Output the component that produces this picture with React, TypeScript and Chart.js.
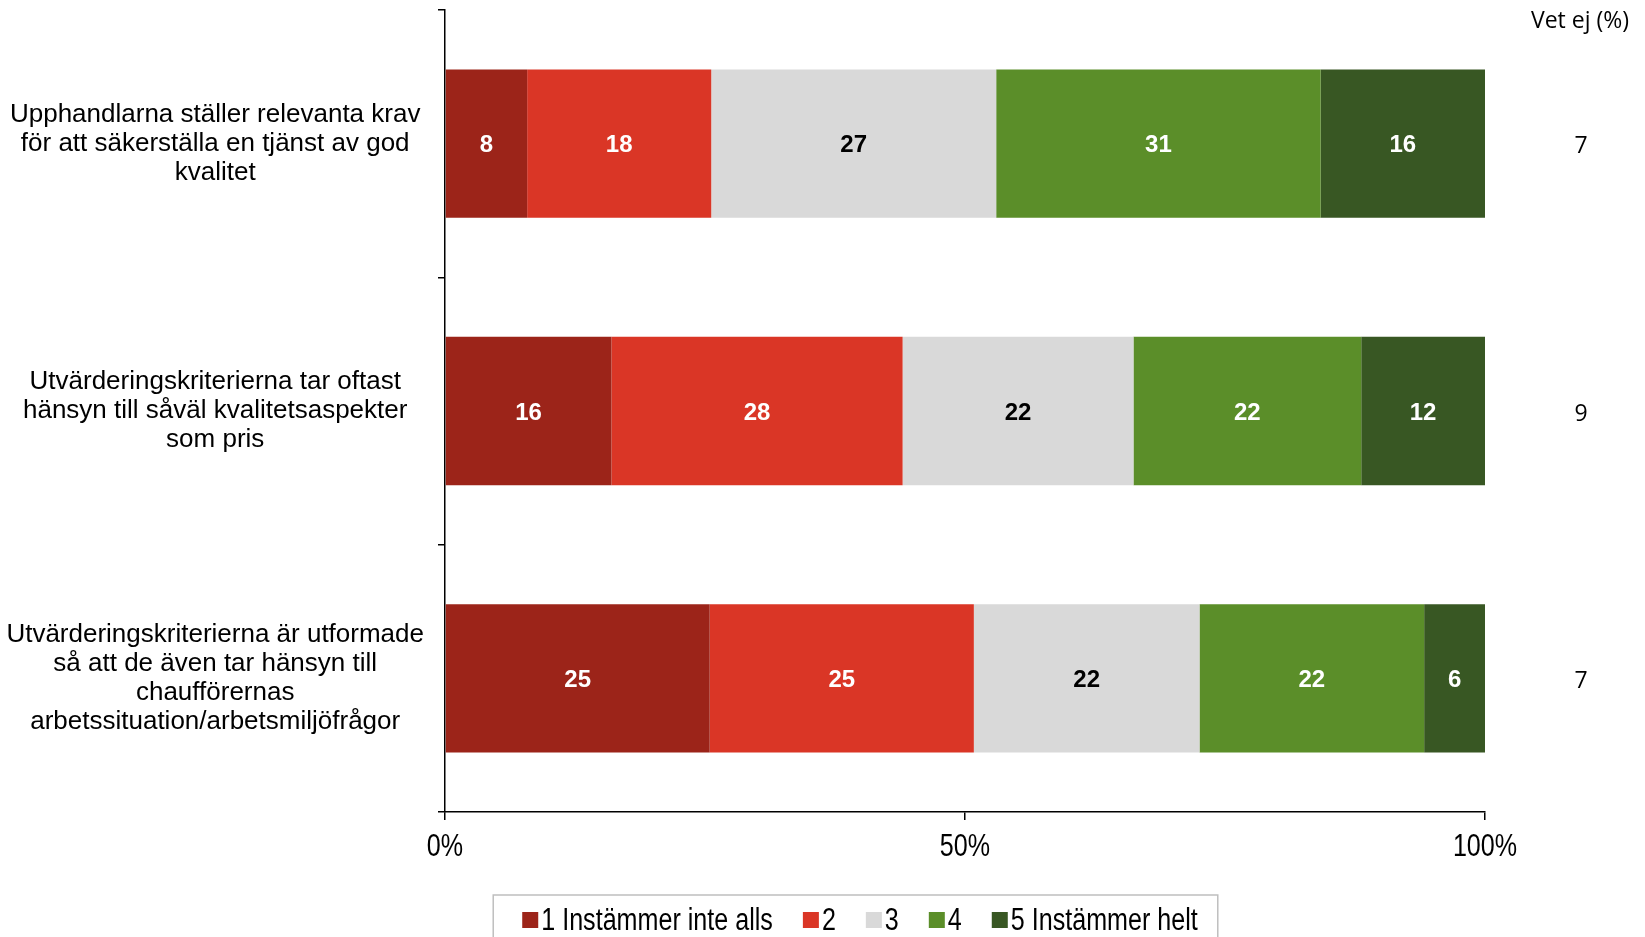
import React, { useEffect, useRef } from "react";
import { Chart, registerables } from "chart.js";

Chart.register(...registerables);

const categories: string[][] = [
  ["Upphandlarna ställer relevanta krav", "för att säkerställa en tjänst av god", "kvalitet"],
  ["Utvärderingskriterierna tar oftast", "hänsyn till såväl kvalitetsaspekter", "som pris"],
  ["Utvärderingskriterierna är utformade", "så att de även tar hänsyn till", "chaufförernas", "arbetssituation/arbetsmiljöfrågor"],
];
const seriesLabels = ["1 Instämmer inte alls", "2", "3", "4", "5 Instämmer helt"];
const series1 = [7.9, 16.0, 25.45];
const series2 = [17.7, 28.0, 25.4];
const series3 = [27.4, 22.2, 21.7];
const series4 = [31.2, 21.9, 21.6];
const series5 = [15.8, 11.9, 5.85];
const vetEj = [7, 9, 7];
const vetEjTitle = "Vet ej (%)";
const xTickValues = [0, 50, 100];

const colors = ["#9C2419", "#DA3626", "#D9D9D9", "#5B8E29", "#385723"];
const valueColors = ["#FFFFFF", "#FFFFFF", "#000000", "#FFFFFF", "#FFFFFF"];

const SANS = "'Liberation Sans', Arial, sans-serif";
const CAL = "'Open Sans', 'Noto Sans', sans-serif";
const NARROW_SCALE = 0.81;

function narrowText(ctx: any, text: string, x: number, y: number, align: "left" | "center") {
  ctx.save();
  ctx.translate(x, y);
  ctx.scale(NARROW_SCALE, 1);
  ctx.textAlign = align;
  ctx.fillText(text, 0, 0);
  ctx.restore();
}

const valueLabelPlugin = {
  id: "valueLabels",
  afterDatasetsDraw(chart: any) {
    const ctx = chart.ctx;
    ctx.save();
    ctx.font = `bold 24px ${SANS}`;
    ctx.textAlign = "center";
    ctx.textBaseline = "middle";
    chart.data.datasets.forEach((ds: any, d: number) => {
      const meta = chart.getDatasetMeta(d);
      meta.data.forEach((bar: any, i: number) => {
        const p = bar.getCenterPoint();
        ctx.fillStyle = valueColors[d];
        ctx.fillText(String(Math.round(ds.data[i])), p.x, p.y + 2);
      });
    });
    ctx.restore();
  },
};

const xTickLabelPlugin = {
  id: "xTickLabels",
  afterDraw(chart: any) {
    const ctx = chart.ctx;
    const xs = chart.scales.x;
    ctx.save();
    ctx.fillStyle = "#000";
    ctx.font = `31px ${SANS}`;
    ctx.textBaseline = "middle";
    xs.ticks.forEach((t: any) => {
      narrowText(ctx, `${t.value}%`, xs.getPixelForValue(t.value), xs.top + 35, "center");
    });
    ctx.restore();
  },
};

const vetEjPlugin = {
  id: "vetEj",
  afterDraw(chart: any) {
    const ctx = chart.ctx;
    const yScale = chart.scales.y;
    const x = chart.chartArea.right + 96;
    ctx.save();
    ctx.fillStyle = "#000";
    ctx.textAlign = "center";
    ctx.textBaseline = "middle";
    ctx.font = `23px ${CAL}`;
    ctx.fillText(vetEjTitle, x - 1, 21);
    vetEj.forEach((v, i) => {
      ctx.fillText(String(v), x, yScale.getPixelForValue(i) + 3);
    });
    ctx.restore();
  },
};

const legendPlugin = {
  id: "customLegend",
  afterDraw(chart: any) {
    const ctx = chart.ctx;
    ctx.save();
    ctx.font = `31px ${SANS}`;
    ctx.textBaseline = "middle";
    const box = 16;
    const gap = 3;
    const spacing = 30;
    const items = chart.data.datasets.map((ds: any) => ({
      text: ds.label,
      color: ds.backgroundColor,
      w: box + gap + ctx.measureText(ds.label).width * NARROW_SCALE,
    }));
    const total = items.reduce((s: number, it: any) => s + it.w, 0) + spacing * (items.length - 1);
    const cx = 860;
    let x = cx - total / 2;
    const cy = 920;
    ctx.strokeStyle = "#BFBFBF";
    ctx.lineWidth = 1.5;
    ctx.strokeRect(x - 29, 895, total + 49, 70);
    items.forEach((it: any) => {
      ctx.fillStyle = it.color;
      ctx.fillRect(x, cy - box / 2, box, box);
      ctx.fillStyle = "#000";
      narrowText(ctx, it.text, x + box + gap, cy + 1, "left");
      x += it.w + spacing;
    });
    ctx.restore();
  },
};

export default function App() {
  const ref = useRef<HTMLCanvasElement | null>(null);
  useEffect(() => {
    if (!ref.current) return;
    const data = [series1, series2, series3, series4, series5];
    const chart = new Chart(ref.current, {
      type: "bar",
      data: {
        labels: categories,
        datasets: data.map((d, i) => ({
          label: seriesLabels[i],
          data: d,
          backgroundColor: colors[i],
          borderWidth: 0,
          barPercentage: 0.555,
          categoryPercentage: 1,
        })),
      },
      options: {
        indexAxis: "y",
        animation: false,
        responsive: false,
        devicePixelRatio: 1,
        layout: { padding: { top: 10, right: 160, bottom: 0, left: 0 } },
        plugins: {
          legend: { display: false },
          tooltip: { enabled: false },
        },
        scales: {
          x: {
            stacked: true,
            min: 0,
            max: 100,
            afterBuildTicks: (scale: any) => {
              scale.ticks = xTickValues.map((v) => ({ value: v }));
            },
            afterFit: (scale: any) => {
              scale.height = 125;
              scale.paddingLeft = 0;
              scale.paddingRight = 0;
            },
            ticks: {
              display: false,
            },
            grid: {
              drawOnChartArea: false,
              drawTicks: true,
              tickLength: 8,
              color: "#000",
              lineWidth: 1.5,
            },
            border: { color: "#000", width: 1.5 },
          },
          y: {
            stacked: true,
            afterFit: (scale: any) => {
              scale.width = 445;
              scale.paddingTop = 0;
              scale.paddingBottom = 0;
            },
            ticks: {
              crossAlign: "center",
              color: "#000",
              font: { family: SANS, size: 26, lineHeight: 1.108 },
              padding: 14,
            },
            grid: {
              offset: true,
              drawOnChartArea: false,
              drawTicks: true,
              tickLength: 7,
              color: "#000",
              lineWidth: 1.5,
            },
            border: { color: "#000", width: 1.5 },
          },
        },
      },
      plugins: [valueLabelPlugin, xTickLabelPlugin, vetEjPlugin, legendPlugin],
    } as any);
    return () => chart.destroy();
  }, []);
  return (
    <div style={{ position: "fixed", left: 0, top: 0, width: 1645, height: 937, background: "#fff" }}>
      <canvas ref={ref} width={1645} height={937} style={{ display: "block" }} />
    </div>
  );
}
